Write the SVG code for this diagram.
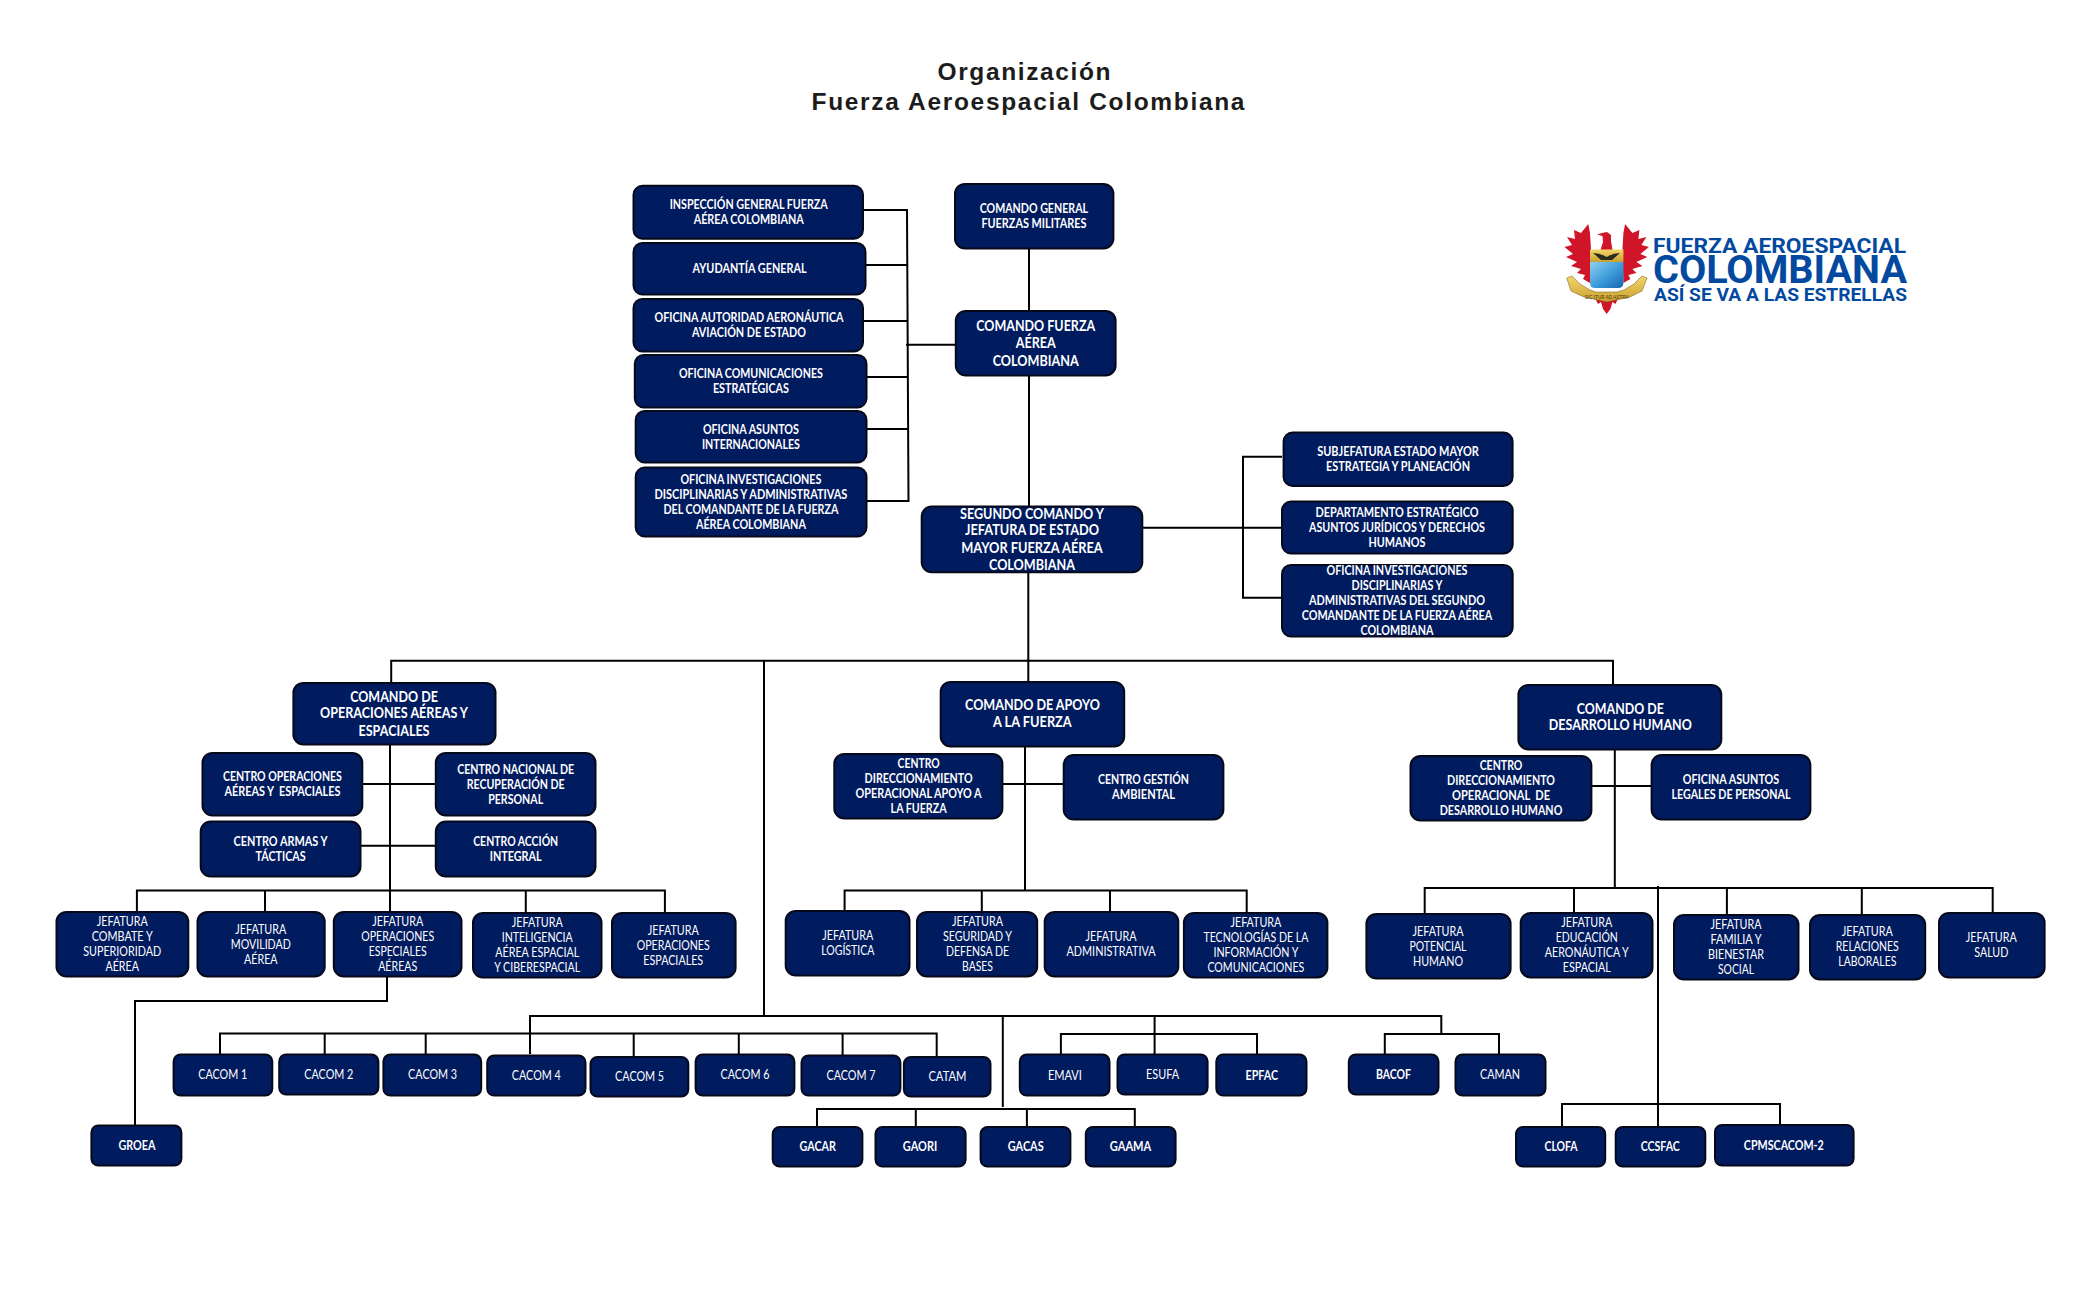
<svg xmlns="http://www.w3.org/2000/svg" width="2100" height="1300" viewBox="0 0 2100 1300">
<style>
.bx{fill:#011b5f;stroke:#06091a;stroke-width:2}
.c{fill:none;stroke:#000;stroke-width:2}
text{text-anchor:middle;fill:#fff;font-family:Lato,"Open Sans","Liberation Sans",sans-serif}
.t{font-size:12.5px;font-weight:700}
.n{font-size:12.5px;font-weight:400}
.b{font-size:14.5px;font-weight:700}
.title{font-family:"Liberation Sans",Arial,sans-serif;font-size:24.5px;font-weight:700;fill:#1c1c1c}
.lg{font-family:Roboto,"Liberation Sans",sans-serif;font-weight:700;fill:#0349a0}
</style>
<defs>
<linearGradient id="blue" x1="0" y1="0" x2="1" y2="1"><stop offset="0" stop-color="#8fd0ee"/><stop offset=".55" stop-color="#3b9ad9"/><stop offset="1" stop-color="#1565ad"/></linearGradient>
<linearGradient id="gold" x1="0" y1="0" x2="0" y2="1"><stop offset="0" stop-color="#f3d769"/><stop offset="1" stop-color="#c99f2e"/></linearGradient>
</defs>
<rect width="2100" height="1300" fill="#fff"/>
<g id="title">
<text class="title" x="1024" y="80" textLength="173" lengthAdjust="spacing">Organización</text>
<text class="title" x="1028" y="109.5" textLength="433" lengthAdjust="spacing">Fuerza Aeroespacial Colombiana</text>
</g>
<g id="connectors" class="c">
<path d="M1029 247V310M1029 374V506M1028.3 571V681"/>
<path d="M863 210H907L908.5 501H866M865 265H908M863 321H908M866 377H908M866 429H908M906 344.7H956"/>
<path d="M1142 527.7H1283M1282 456.7H1243V597.7H1282"/>
<path d="M391.2 682V660.8H1613V684"/>
<path d="M764 660.8V1016"/>
<path d="M390 743V911M362 784H436M360 845.7H436M136.9 911V890.5H664.9V912M265 890.5V911"/>
<path d="M525.8 890.5V912"/>
<path d="M387 975V1001H135V1125"/>
<path d="M530 1054V1016H1441.3V1034"/>
<path d="M220 1054V1033.5H936.7V1056M324.7 1034V1054M425.7 1034V1054M633.7 1034V1056M738.8 1034V1054M842.6 1034V1055"/>
<path d="M1002.8 1016V1107"/>
<path d="M817 1126V1109H1134.8V1126M915.8 1109V1126M1026.9 1109V1126"/>
<path d="M1154.6 1016V1054M1060.9 1054V1034H1257V1054"/>
<path d="M1384.8 1054V1034H1499V1054"/>
<path d="M1025 745V890M1002 784H1064M844.6 910V890.5H1246.7V912M981.8 890.5V911M1110 890.5V911"/>
<path d="M1614.8 748V888M1591 786H1652M1424.7 913V888H1992.7V912M1574 888V912M1726.9 887.5V914M1861.8 887.5V914"/>
<path d="M1658 886V1126M1562 1126V1104H1780V1124"/>
</g>
<g id="nodes" transform="translate(0 1.2)">
<g id="n-insp"><rect class="bx" x="633.5" y="184.5" width="229.5" height="53" rx="9"/><text class="t" x="748.7" y="208" textLength="158" lengthAdjust="spacingAndGlyphs">INSPECCIÓN GENERAL FUERZA</text><text class="t" x="748.7" y="223" textLength="110" lengthAdjust="spacingAndGlyphs">AÉREA COLOMBIANA</text></g>
<g id="n-ayud"><rect class="bx" x="633.5" y="241.7" width="232" height="51.6" rx="9"/><text class="t" x="749.6" y="272" textLength="114" lengthAdjust="spacingAndGlyphs">AYUDANTÍA GENERAL</text></g>
<g id="n-auto"><rect class="bx" x="633.5" y="297.7" width="229.5" height="52.6" rx="9"/><text class="t" x="749" y="321" textLength="189" lengthAdjust="spacingAndGlyphs">OFICINA AUTORIDAD AERONÁUTICA</text><text class="t" x="749" y="336" textLength="114" lengthAdjust="spacingAndGlyphs">AVIACIÓN DE ESTADO</text></g>
<g id="n-comu"><rect class="bx" x="634.8" y="353.7" width="231.7" height="52.6" rx="9"/><text class="t" x="750.9" y="377" textLength="144" lengthAdjust="spacingAndGlyphs">OFICINA COMUNICACIONES</text><text class="t" x="750.9" y="392" textLength="76" lengthAdjust="spacingAndGlyphs">ESTRATÉGICAS</text></g>
<g id="n-asun"><rect class="bx" x="635.7" y="409.7" width="230.8" height="51.6" rx="9"/><text class="t" x="750.9" y="433" textLength="96" lengthAdjust="spacingAndGlyphs">OFICINA ASUNTOS</text><text class="t" x="750.9" y="448" textLength="98" lengthAdjust="spacingAndGlyphs">INTERNACIONALES</text></g>
<g id="n-inv1"><rect class="bx" x="635.7" y="466.3" width="230.8" height="69" rx="9"/><text class="t" x="750.9" y="483" textLength="141" lengthAdjust="spacingAndGlyphs">OFICINA INVESTIGACIONES</text><text class="t" x="750.9" y="498" textLength="193" lengthAdjust="spacingAndGlyphs">DISCIPLINARIAS Y ADMINISTRATIVAS</text><text class="t" x="750.9" y="513" textLength="175" lengthAdjust="spacingAndGlyphs">DEL COMANDANTE DE LA FUERZA</text><text class="t" x="750.9" y="528" textLength="110" lengthAdjust="spacingAndGlyphs">AÉREA COLOMBIANA</text></g>
<g id="n-cgfm"><rect class="bx" x="955" y="182.7" width="158.4" height="64.6" rx="10"/><text class="t" x="1033.9" y="212" textLength="108.5" lengthAdjust="spacingAndGlyphs">COMANDO GENERAL</text><text class="t" x="1033.9" y="227" textLength="105" lengthAdjust="spacingAndGlyphs">FUERZAS MILITARES</text></g>
<g id="n-cfac"><rect class="bx" x="955.8" y="309.7" width="159.8" height="64.6" rx="10"/><text class="b" x="1035.7" y="329.7" textLength="119" lengthAdjust="spacingAndGlyphs">COMANDO FUERZA</text><text class="b" x="1035.7" y="346.7" textLength="40" lengthAdjust="spacingAndGlyphs">AÉREA</text><text class="b" x="1035.7" y="364.7" textLength="86" lengthAdjust="spacingAndGlyphs">COLOMBIANA</text></g>
<g id="n-segundo"><rect class="bx" x="921.7" y="505.3" width="220.6" height="65.7" rx="10"/><text class="b" x="1032" y="517.7" textLength="144" lengthAdjust="spacingAndGlyphs">SEGUNDO COMANDO Y</text><text class="b" x="1032" y="534.3" textLength="134" lengthAdjust="spacingAndGlyphs">JEFATURA DE ESTADO</text><text class="b" x="1032" y="552.3" textLength="141.5" lengthAdjust="spacingAndGlyphs">MAYOR FUERZA AÉREA</text><text class="b" x="1032" y="569.3" textLength="86" lengthAdjust="spacingAndGlyphs">COLOMBIANA</text></g>
<g id="n-subj"><rect class="bx" x="1283.6" y="431.3" width="229" height="53.4" rx="9"/><text class="t" x="1398" y="455" textLength="161.6" lengthAdjust="spacingAndGlyphs">SUBJEFATURA ESTADO MAYOR</text><text class="t" x="1398" y="470" textLength="144" lengthAdjust="spacingAndGlyphs">ESTRATEGIA Y PLANEACIÓN</text></g>
<g id="n-depto"><rect class="bx" x="1282" y="500.3" width="230.7" height="52" rx="9"/><text class="t" x="1397" y="516" textLength="163" lengthAdjust="spacingAndGlyphs">DEPARTAMENTO ESTRATÉGICO</text><text class="t" x="1397" y="531" textLength="176" lengthAdjust="spacingAndGlyphs">ASUNTOS JURÍDICOS Y DERECHOS</text><text class="t" x="1397" y="546" textLength="57" lengthAdjust="spacingAndGlyphs">HUMANOS</text></g>
<g id="n-inv2"><rect class="bx" x="1282" y="563.7" width="230.7" height="71.6" rx="9"/><text class="t" x="1397" y="574" textLength="141" lengthAdjust="spacingAndGlyphs">OFICINA INVESTIGACIONES</text><text class="t" x="1397" y="589" textLength="91" lengthAdjust="spacingAndGlyphs">DISCIPLINARIAS Y</text><text class="t" x="1397" y="604" textLength="176" lengthAdjust="spacingAndGlyphs">ADMINISTRATIVAS DEL SEGUNDO</text><text class="t" x="1397" y="619" textLength="190.5" lengthAdjust="spacingAndGlyphs">COMANDANTE DE LA FUERZA AÉREA</text><text class="t" x="1397" y="634" textLength="73" lengthAdjust="spacingAndGlyphs">COLOMBIANA</text></g>
<g id="n-coae"><rect class="bx" x="293.4" y="681.7" width="202.1" height="61.6" rx="10"/><text class="b" x="394" y="700.7" textLength="87.7" lengthAdjust="spacingAndGlyphs">COMANDO DE</text><text class="b" x="394" y="717.3" textLength="148" lengthAdjust="spacingAndGlyphs">OPERACIONES AÉREAS Y</text><text class="b" x="394" y="735.3" textLength="71" lengthAdjust="spacingAndGlyphs">ESPACIALES</text></g>
<g id="n-coper"><rect class="bx" x="202.5" y="751.7" width="159.8" height="62.6" rx="10"/><text class="t" x="282.4" y="780" textLength="119" lengthAdjust="spacingAndGlyphs">CENTRO OPERACIONES</text><text class="t" x="282.4" y="795" textLength="116" lengthAdjust="spacingAndGlyphs" xml:space="preserve">AÉREAS Y  ESPACIALES</text></g>
<g id="n-cnac"><rect class="bx" x="435.8" y="751.7" width="159.7" height="62.6" rx="10"/><text class="t" x="515.7" y="773" textLength="117" lengthAdjust="spacingAndGlyphs">CENTRO NACIONAL DE</text><text class="t" x="515.7" y="788" textLength="98" lengthAdjust="spacingAndGlyphs">RECUPERACIÓN DE</text><text class="t" x="515.7" y="803" textLength="55" lengthAdjust="spacingAndGlyphs">PERSONAL</text></g>
<g id="n-carm"><rect class="bx" x="200.7" y="820.3" width="159.8" height="55" rx="10"/><text class="t" x="280.6" y="845" textLength="94" lengthAdjust="spacingAndGlyphs">CENTRO ARMAS Y</text><text class="t" x="280.6" y="860" textLength="50" lengthAdjust="spacingAndGlyphs">TÁCTICAS</text></g>
<g id="n-cacc"><rect class="bx" x="435.8" y="820.3" width="159.7" height="55" rx="10"/><text class="t" x="515.7" y="845" textLength="85" lengthAdjust="spacingAndGlyphs">CENTRO ACCIÓN</text><text class="t" x="515.7" y="860" textLength="52" lengthAdjust="spacingAndGlyphs">INTEGRAL</text></g>
<g id="n-j1"><rect class="bx" x="56.5" y="910.7" width="131.8" height="64.6" rx="10"/><text class="n" x="122.2" y="925" textLength="51" lengthAdjust="spacingAndGlyphs">JEFATURA</text><text class="n" x="122.2" y="940" textLength="61" lengthAdjust="spacingAndGlyphs">COMBATE Y</text><text class="n" x="122.2" y="955" textLength="78" lengthAdjust="spacingAndGlyphs">SUPERIORIDAD</text><text class="n" x="122.2" y="970" textLength="33.5" lengthAdjust="spacingAndGlyphs">AÉREA</text></g>
<g id="n-j2"><rect class="bx" x="197.5" y="910.7" width="127.2" height="64.6" rx="10"/><text class="n" x="260.8" y="933" textLength="51" lengthAdjust="spacingAndGlyphs">JEFATURA</text><text class="n" x="260.8" y="948" textLength="60" lengthAdjust="spacingAndGlyphs">MOVILIDAD</text><text class="n" x="260.8" y="963" textLength="33.5" lengthAdjust="spacingAndGlyphs">AÉREA</text></g>
<g id="n-j3"><rect class="bx" x="333.8" y="910.7" width="127.7" height="64.6" rx="10"/><text class="n" x="397.7" y="925" textLength="51" lengthAdjust="spacingAndGlyphs">JEFATURA</text><text class="n" x="397.7" y="940" textLength="73" lengthAdjust="spacingAndGlyphs">OPERACIONES</text><text class="n" x="397.7" y="955" textLength="58" lengthAdjust="spacingAndGlyphs">ESPECIALES</text><text class="n" x="397.7" y="970" textLength="39" lengthAdjust="spacingAndGlyphs">AÉREAS</text></g>
<g id="n-j4"><rect class="bx" x="473" y="911.7" width="128.5" height="64.6" rx="10"/><text class="n" x="537.2" y="926" textLength="51" lengthAdjust="spacingAndGlyphs">JEFATURA</text><text class="n" x="537.2" y="941" textLength="71" lengthAdjust="spacingAndGlyphs">INTELIGENCIA</text><text class="n" x="537.2" y="956" textLength="84" lengthAdjust="spacingAndGlyphs">AÉREA ESPACIAL</text><text class="n" x="537.2" y="971" textLength="86" lengthAdjust="spacingAndGlyphs">Y CIBERESPACIAL</text></g>
<g id="n-j5"><rect class="bx" x="612" y="911.7" width="123.6" height="64.6" rx="10"/><text class="n" x="673.2" y="934" textLength="51" lengthAdjust="spacingAndGlyphs">JEFATURA</text><text class="n" x="673.2" y="949" textLength="73" lengthAdjust="spacingAndGlyphs">OPERACIONES</text><text class="n" x="673.2" y="964" textLength="60" lengthAdjust="spacingAndGlyphs">ESPACIALES</text></g>
<g id="n-groea"><rect class="bx" x="91.4" y="1124.3" width="90" height="40" rx="7"/><text class="t" x="136.9" y="1149" textLength="37" lengthAdjust="spacingAndGlyphs">GROEA</text></g>
<g id="n-cacom1"><rect class="bx" x="173.6" y="1053.3" width="98.7" height="41" rx="7"/><text class="n" x="222.7" y="1078" textLength="49" lengthAdjust="spacingAndGlyphs">CACOM 1</text></g>
<g id="n-cacom2"><rect class="bx" x="279.2" y="1053.3" width="99.2" height="40" rx="7"/><text class="n" x="328.8" y="1078" textLength="49" lengthAdjust="spacingAndGlyphs">CACOM 2</text></g>
<g id="n-cacom3"><rect class="bx" x="383.4" y="1053.3" width="97.8" height="41" rx="7"/><text class="n" x="432.6" y="1078" textLength="49" lengthAdjust="spacingAndGlyphs">CACOM 3</text></g>
<g id="n-cacom4"><rect class="bx" x="487.2" y="1054.3" width="98.3" height="40" rx="7"/><text class="n" x="536.3" y="1079" textLength="49" lengthAdjust="spacingAndGlyphs">CACOM 4</text></g>
<g id="n-cacom5"><rect class="bx" x="590.5" y="1055.7" width="97.8" height="39.6" rx="7"/><text class="n" x="639.6" y="1080" textLength="49" lengthAdjust="spacingAndGlyphs">CACOM 5</text></g>
<g id="n-cacom6"><rect class="bx" x="695.6" y="1053.3" width="98.8" height="41" rx="7"/><text class="n" x="745" y="1078" textLength="49" lengthAdjust="spacingAndGlyphs">CACOM 6</text></g>
<g id="n-cacom7"><rect class="bx" x="801.5" y="1054.3" width="98.9" height="40" rx="7"/><text class="n" x="851" y="1079" textLength="49" lengthAdjust="spacingAndGlyphs">CACOM 7</text></g>
<g id="n-catam"><rect class="bx" x="903.9" y="1055.7" width="86.6" height="39.6" rx="7"/><text class="n" x="947.4" y="1080" textLength="38" lengthAdjust="spacingAndGlyphs">CATAM</text></g>
<g id="n-emavi"><rect class="bx" x="1019.8" y="1053.3" width="89.7" height="41" rx="7"/><text class="n" x="1064.9" y="1079" textLength="34" lengthAdjust="spacingAndGlyphs">EMAVI</text></g>
<g id="n-esufa"><rect class="bx" x="1117.5" y="1053.3" width="90.1" height="40" rx="7"/><text class="n" x="1162.5" y="1078" textLength="33" lengthAdjust="spacingAndGlyphs">ESUFA</text></g>
<g id="n-epfac"><rect class="bx" x="1216.3" y="1053.3" width="90.2" height="41" rx="7"/><text class="t" x="1261.8" y="1079" textLength="32.4" lengthAdjust="spacingAndGlyphs">EPFAC</text></g>
<g id="n-bacof"><rect class="bx" x="1348.8" y="1053.3" width="89.7" height="40" rx="7"/><text class="t" x="1393.5" y="1078" textLength="35" lengthAdjust="spacingAndGlyphs">BACOF</text></g>
<g id="n-caman"><rect class="bx" x="1455.5" y="1053.3" width="90" height="41" rx="7"/><text class="n" x="1500" y="1078" textLength="40" lengthAdjust="spacingAndGlyphs">CAMAN</text></g>
<g id="n-gacar"><rect class="bx" x="772.7" y="1125.7" width="89.7" height="39.6" rx="7"/><text class="t" x="817.7" y="1150" textLength="36.4" lengthAdjust="spacingAndGlyphs">GACAR</text></g>
<g id="n-gaori"><rect class="bx" x="875.5" y="1125.7" width="90.1" height="39.6" rx="7"/><text class="t" x="920" y="1150" textLength="34.4" lengthAdjust="spacingAndGlyphs">GAORI</text></g>
<g id="n-gacas"><rect class="bx" x="980.6" y="1125.7" width="89.8" height="39.6" rx="7"/><text class="t" x="1025.7" y="1150" textLength="36" lengthAdjust="spacingAndGlyphs">GACAS</text></g>
<g id="n-gaama"><rect class="bx" x="1085.8" y="1125.7" width="89.8" height="39.6" rx="7"/><text class="t" x="1130.5" y="1150" textLength="41.5" lengthAdjust="spacingAndGlyphs">GAAMA</text></g>
<g id="n-caf"><rect class="bx" x="940.7" y="680.7" width="183.5" height="64.6" rx="10"/><text class="b" x="1032.4" y="709.3" textLength="134.8" lengthAdjust="spacingAndGlyphs">COMANDO DE APOYO</text><text class="b" x="1032.4" y="726.3" textLength="78.7" lengthAdjust="spacingAndGlyphs">A LA FUERZA</text></g>
<g id="n-cdoaf"><rect class="bx" x="834.3" y="752.7" width="168.1" height="64.6" rx="10"/><text class="t" x="918.6" y="767" textLength="42" lengthAdjust="spacingAndGlyphs">CENTRO</text><text class="t" x="918.6" y="782" textLength="108" lengthAdjust="spacingAndGlyphs">DIRECCIONAMIENTO</text><text class="t" x="918.6" y="797" textLength="126" lengthAdjust="spacingAndGlyphs">OPERACIONAL APOYO A</text><text class="t" x="918.6" y="812" textLength="56" lengthAdjust="spacingAndGlyphs">LA FUERZA</text></g>
<g id="n-cga"><rect class="bx" x="1063.7" y="753.7" width="159.7" height="64.6" rx="10"/><text class="t" x="1143.5" y="783" textLength="91" lengthAdjust="spacingAndGlyphs">CENTRO GESTIÓN</text><text class="t" x="1143.5" y="798" textLength="63" lengthAdjust="spacingAndGlyphs">AMBIENTAL</text></g>
<g id="n-jlog"><rect class="bx" x="785.7" y="909.7" width="123.8" height="64.6" rx="10"/><text class="n" x="847.8" y="939" textLength="51" lengthAdjust="spacingAndGlyphs">JEFATURA</text><text class="n" x="847.8" y="954" textLength="53" lengthAdjust="spacingAndGlyphs">LOGÍSTICA</text></g>
<g id="n-jseg"><rect class="bx" x="917" y="910.7" width="120.2" height="64.6" rx="10"/><text class="n" x="977.5" y="925" textLength="51" lengthAdjust="spacingAndGlyphs">JEFATURA</text><text class="n" x="977.5" y="940" textLength="69" lengthAdjust="spacingAndGlyphs">SEGURIDAD Y</text><text class="n" x="977.5" y="955" textLength="63" lengthAdjust="spacingAndGlyphs">DEFENSA DE</text><text class="n" x="977.5" y="970" textLength="31" lengthAdjust="spacingAndGlyphs">BASES</text></g>
<g id="n-jadm"><rect class="bx" x="1044.7" y="910.7" width="133.6" height="64.6" rx="10"/><text class="n" x="1111" y="940" textLength="51" lengthAdjust="spacingAndGlyphs">JEFATURA</text><text class="n" x="1111" y="955" textLength="89" lengthAdjust="spacingAndGlyphs">ADMINISTRATIVA</text></g>
<g id="n-jtec"><rect class="bx" x="1183.9" y="911.7" width="143.5" height="64.6" rx="10"/><text class="n" x="1255.9" y="926" textLength="51" lengthAdjust="spacingAndGlyphs">JEFATURA</text><text class="n" x="1255.9" y="941" textLength="105" lengthAdjust="spacingAndGlyphs">TECNOLOGÍAS DE LA</text><text class="n" x="1255.9" y="956" textLength="85" lengthAdjust="spacingAndGlyphs">INFORMACIÓN Y</text><text class="n" x="1255.9" y="971" textLength="97" lengthAdjust="spacingAndGlyphs">COMUNICACIONES</text></g>
<g id="n-cdh"><rect class="bx" x="1518.4" y="683.7" width="202.9" height="64.6" rx="10"/><text class="b" x="1620.3" y="712.7" textLength="87" lengthAdjust="spacingAndGlyphs">COMANDO DE</text><text class="b" x="1620.3" y="729.3" textLength="143" lengthAdjust="spacingAndGlyphs">DESARROLLO HUMANO</text></g>
<g id="n-cdodh"><rect class="bx" x="1410.5" y="754.7" width="180.9" height="64.6" rx="10"/><text class="t" x="1501" y="769" textLength="42.7" lengthAdjust="spacingAndGlyphs">CENTRO</text><text class="t" x="1501" y="784" textLength="108" lengthAdjust="spacingAndGlyphs">DIRECCIONAMIENTO</text><text class="t" x="1501" y="799" textLength="98" lengthAdjust="spacingAndGlyphs" xml:space="preserve">OPERACIONAL  DE</text><text class="t" x="1501" y="814" textLength="122.6" lengthAdjust="spacingAndGlyphs">DESARROLLO HUMANO</text></g>
<g id="n-oalp"><rect class="bx" x="1651.6" y="753.7" width="158.8" height="64.6" rx="10"/><text class="t" x="1731" y="783" textLength="96.4" lengthAdjust="spacingAndGlyphs">OFICINA ASUNTOS</text><text class="t" x="1731" y="798" textLength="119" lengthAdjust="spacingAndGlyphs">LEGALES DE PERSONAL</text></g>
<g id="n-jpot"><rect class="bx" x="1366.4" y="912.7" width="144.2" height="64.6" rx="10"/><text class="n" x="1438" y="935" textLength="51" lengthAdjust="spacingAndGlyphs">JEFATURA</text><text class="n" x="1438" y="950" textLength="57" lengthAdjust="spacingAndGlyphs">POTENCIAL</text><text class="n" x="1438" y="965" textLength="50" lengthAdjust="spacingAndGlyphs">HUMANO</text></g>
<g id="n-jedu"><rect class="bx" x="1520.7" y="911.7" width="131.8" height="64.6" rx="10"/><text class="n" x="1586.8" y="926" textLength="51" lengthAdjust="spacingAndGlyphs">JEFATURA</text><text class="n" x="1586.8" y="941" textLength="62" lengthAdjust="spacingAndGlyphs">EDUCACIÓN</text><text class="n" x="1586.8" y="956" textLength="84" lengthAdjust="spacingAndGlyphs">AERONÁUTICA Y</text><text class="n" x="1586.8" y="971" textLength="48" lengthAdjust="spacingAndGlyphs">ESPACIAL</text></g>
<g id="n-jfam"><rect class="bx" x="1674" y="913.7" width="124.5" height="64.6" rx="10"/><text class="n" x="1736" y="928" textLength="51" lengthAdjust="spacingAndGlyphs">JEFATURA</text><text class="n" x="1736" y="943" textLength="51" lengthAdjust="spacingAndGlyphs">FAMILIA Y</text><text class="n" x="1736" y="958" textLength="56" lengthAdjust="spacingAndGlyphs">BIENESTAR</text><text class="n" x="1736" y="973" textLength="36" lengthAdjust="spacingAndGlyphs">SOCIAL</text></g>
<g id="n-jrel"><rect class="bx" x="1810" y="913.7" width="115.2" height="64.6" rx="10"/><text class="n" x="1867.3" y="935" textLength="51" lengthAdjust="spacingAndGlyphs">JEFATURA</text><text class="n" x="1867.3" y="950" textLength="63" lengthAdjust="spacingAndGlyphs">RELACIONES</text><text class="n" x="1867.3" y="965" textLength="58" lengthAdjust="spacingAndGlyphs">LABORALES</text></g>
<g id="n-jsal"><rect class="bx" x="1939" y="911.7" width="105.6" height="64.6" rx="10"/><text class="n" x="1991.3" y="941" textLength="51" lengthAdjust="spacingAndGlyphs">JEFATURA</text><text class="n" x="1991.3" y="956" textLength="34" lengthAdjust="spacingAndGlyphs">SALUD</text></g>
<g id="n-clofa"><rect class="bx" x="1516" y="1125.7" width="89.2" height="39.6" rx="7"/><text class="t" x="1561" y="1150" textLength="33" lengthAdjust="spacingAndGlyphs">CLOFA</text></g>
<g id="n-ccsfac"><rect class="bx" x="1615.7" y="1125.7" width="89.6" height="39.6" rx="7"/><text class="t" x="1660.3" y="1150" textLength="39" lengthAdjust="spacingAndGlyphs">CCSFAC</text></g>
<g id="n-cpms"><rect class="bx" x="1715" y="1123.7" width="138.6" height="40.6" rx="7"/><text class="t" x="1783.8" y="1149" textLength="80" lengthAdjust="spacingAndGlyphs">CPMSCACOM-2</text></g>
</g>
<g id="logo">
<g fill="#d01528">
<path d="M1588.3 224L1590 233L1591 250L1590 283L1583 279L1585 275L1577 273L1581 269L1571 266L1577 262L1566 257L1573 254L1564.5 247L1572 245L1567 237L1575 239L1574 230L1581 233Z"/>
<path d="M1625.1 224L1623.4 233L1622.4 250L1623.4 283L1630.4 279L1628.4 275L1636.4 273L1632.4 269L1642.4 266L1636.4 262L1647.4 257L1640.4 254L1648.9 247L1641.4 245L1646.4 237L1638.4 239L1639.4 230L1632.4 233Z"/>
<path d="M1600.5 250L1603 242L1602.5 236L1597 234.5L1602 233L1607 232L1611 235L1611 241L1612.5 250Z"/>
<path d="M1594 296L1598 304L1601 302L1603 309L1606.7 314L1610.4 309L1612.4 302L1615.4 304L1619.4 296Z"/>
</g>
<path d="M1590 249.5H1623.4V262H1590Z" fill="url(#gold)"/>
<path d="M1593 253Q1600 253 1606.7 257Q1613 253 1620 253L1612 260H1601Z" fill="#2b2b22"/>
<path d="M1590 262H1623.4V283Q1623.4 288 1618 288H1595Q1590 288 1590 283Z" fill="url(#blue)"/>
<path d="M1566.7 278L1572 276L1580 284L1590 290L1596 292H1617L1624 290L1634 284L1642 276L1647 278L1642 291L1630 297L1606.7 302L1584 297L1571 291Z" fill="url(#gold)" stroke="#6e551a" stroke-width=".5"/>
<text x="1606.7" y="298.5" font-size="5.5" style="fill:#4a3a10;font-family:'Liberation Sans',sans-serif" textLength="44" lengthAdjust="spacingAndGlyphs">SIC ITUR AD ASTRA</text>
</g>
<g id="logo-text">
<text class="lg" x="1779.5" y="253.3" font-size="21" textLength="253" lengthAdjust="spacingAndGlyphs">FUERZA AEROESPACIAL</text>
<text class="lg" x="1780" y="283.3" font-size="38" textLength="254" lengthAdjust="spacingAndGlyphs">COLOMBIANA</text>
<text class="lg" x="1780.5" y="300.7" font-size="18" textLength="253" lengthAdjust="spacingAndGlyphs">ASÍ SE VA A LAS ESTRELLAS</text>
</g>
</svg>
